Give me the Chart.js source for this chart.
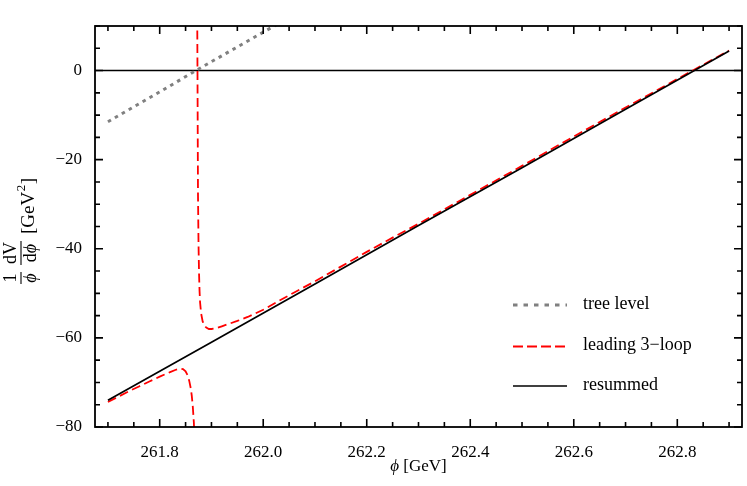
<!DOCTYPE html>
<html>
<head>
<meta charset="utf-8">
<script src="https://cdn.jsdelivr.net/npm/chart.js@4"></script>
<style>
  html, body { margin: 0; padding: 0; background: #fff; }
  #wrap { width: 747px; height: 486px; }
</style>
</head>
<body>
<div id="wrap"><canvas id="c" width="747" height="486"></canvas></div>
<script>
// ---- data ----
const treeX = [261.70, 261.80, 261.87, 261.95, 262.05];
const treeY = [-11.5, -4.8, 0.0, 5.3, 11.9];

// leading 3-loop: left branch, gap (pole), right branch
const loopLeftX = [261.70, 261.72, 261.74, 261.76, 261.78, 261.80, 261.81, 261.82, 261.83, 261.835, 261.84, 261.845, 261.85, 261.854, 261.857, 261.86, 261.862, 261.864, 261.866, 261.867];
const loopLeftY = [-74.4, -73.2, -72.0, -70.9, -69.8, -68.7, -68.2, -67.7, -67.2, -67.0, -66.9, -67.0, -67.5, -68.4, -69.6, -71.3, -73.0, -75.5, -79.0, -82.0];
const loopRightX = [261.8725, 261.873, 261.8735, 261.874, 261.875, 261.876, 261.877, 261.878, 261.880, 261.883, 261.886, 261.890, 261.895, 261.900, 261.905, 261.910, 261.920, 261.930, 261.950, 261.970, 262.000, 262.030, 262.060, 262.100, 262.150, 262.200, 262.250, 262.300, 262.400, 262.500, 262.600, 262.700, 262.800, 262.900];
const loopRightY = [12.0, 0.0, -15.0, -28.0, -39.0, -45.5, -49.5, -52.0, -54.5, -56.3, -57.2, -57.7, -58.0, -58.0, -57.9, -57.8, -57.4, -57.0, -56.2, -55.3, -53.7, -51.7, -49.8, -47.3, -44.0, -40.7, -37.5, -34.4, -27.9, -21.4, -14.8, -8.3, -1.9, 4.5];

const resumX = [261.70, 261.90, 262.10, 262.30, 262.50, 262.70, 262.90];
const resumY = [-74.0, -61.0, -47.9, -34.8, -21.8, -8.7, 4.4];

// axis ticks
const xMajorTicks = [261.8, 262.0, 262.2, 262.4, 262.6, 262.8];
const xMinorTicks = [261.70, 261.75, 261.85, 261.90, 261.95, 262.05, 262.10, 262.15, 262.25, 262.30, 262.35, 262.45, 262.50, 262.55, 262.65, 262.70, 262.75, 262.85, 262.90];
const yMajorTicks = [-80, -60, -40, -20, 0];
const yMinorTicks = [-75, -70, -65, -55, -50, -45, -35, -30, -25, -15, -10, -5, 5, 10];

const legendLabels = ['tree level', 'leading 3\u2212loop', 'resummed'];

// ---- build chart data ----
const pts = (xs, ys) => xs.map((x, i) => ({ x: x, y: ys[i] }));
const loopData = pts(loopLeftX, loopLeftY)
  .concat([{ x: (loopLeftX[loopLeftX.length - 1] + loopRightX[0]) / 2, y: null }])
  .concat(pts(loopRightX, loopRightY));

const SERIF = '"Liberation Serif", "DejaVu Serif", serif';

const styles = [
  { color: '#808080', width: 3, dash: [3.5, 4.5], legendDash: [4.5, 6] },
  { color: '#ff0000', width: 1.8, dash: [9, 4.5], legendDash: [10, 4] },
  { color: '#000000', width: 1.7, dash: [], legendDash: [] }
];

const framePlugin = {
  id: 'frame',
  beforeDatasetsDraw(chart) {
    const { ctx, chartArea: a, scales: { y } } = chart;
    const y0 = y.getPixelForValue(0);
    ctx.save();
    ctx.strokeStyle = '#000';
    ctx.lineWidth = 1.4;
    ctx.beginPath();
    ctx.moveTo(a.left, y0);
    ctx.lineTo(a.right, y0);
    ctx.stroke();
    ctx.restore();
  },
  afterDatasetsDraw(chart) {
    const { ctx, chartArea: a, scales: { x, y } } = chart;
    ctx.save();
    ctx.strokeStyle = '#000';
    ctx.lineWidth = 1.8;
    ctx.strokeRect(a.left, a.top, a.right - a.left, a.bottom - a.top);
    const tick = (vals, len, isX) => {
      ctx.beginPath();
      vals.forEach(v => {
        if (isX) {
          const px = x.getPixelForValue(v);
          ctx.moveTo(px, a.bottom); ctx.lineTo(px, a.bottom - len);
          ctx.moveTo(px, a.top); ctx.lineTo(px, a.top + len);
        } else {
          const py = y.getPixelForValue(v);
          ctx.moveTo(a.left, py); ctx.lineTo(a.left + len, py);
          ctx.moveTo(a.right, py); ctx.lineTo(a.right - len, py);
        }
      });
      ctx.stroke();
    };
    ctx.lineWidth = 1.6;
    tick(xMajorTicks, 8, true);
    tick(xMinorTicks, 5, true);
    tick(yMajorTicks, 8, false);
    tick(yMinorTicks, 5, false);
    ctx.restore();
  },
  afterDraw(chart) {
    const { ctx, chartArea: a } = chart;
    ctx.save();
    ctx.fillStyle = '#000';
    // legend
    const rows = [305, 346.5, 386];
    rows.forEach((ry, i) => {
      const ds = chart.data.datasets[i];
      ctx.strokeStyle = ds.borderColor;
      ctx.lineWidth = ds.borderWidth;
      ctx.setLineDash(styles[i].legendDash);
      ctx.beginPath();
      ctx.moveTo(513, ry);
      ctx.lineTo(567, ry);
      ctx.stroke();
      ctx.setLineDash([]);
      ctx.font = '18px ' + SERIF;
      ctx.textBaseline = 'middle';
      ctx.textAlign = 'left';
      ctx.fillText(legendLabels[i], 583, ry - 1);
    });

    // x title: phi [GeV], centred on the frame
    ctx.textBaseline = 'alphabetic';
    ctx.textAlign = 'left';
    ctx.font = 'italic 17px ' + SERIF;
    const phiW = ctx.measureText('\u03d5').width;
    ctx.font = '17px ' + SERIF;
    const restW = ctx.measureText(' [GeV]').width;
    const cxT = (a.left + a.right) / 2;
    let sx = cxT - (phiW + restW) / 2;
    ctx.font = 'italic 17px ' + SERIF;
    ctx.fillText('\u03d5', sx, 471);
    ctx.font = '17px ' + SERIF;
    ctx.fillText(' [GeV]', sx + phiW, 471);

    // y title: (1/phi)(dV/dphi) [GeV^2], rotated
    ctx.translate(21, 286);
    ctx.rotate(-Math.PI / 2);
    const FS = 18;
    const drawMixed = (parts, cx, by) => {
      let total = 0;
      parts.forEach(p => { ctx.font = (p[1] ? 'italic ' : '') + FS + 'px ' + SERIF; total += ctx.measureText(p[0]).width; });
      let px = cx - total / 2;
      ctx.textAlign = 'left';
      parts.forEach(p => {
        ctx.font = (p[1] ? 'italic ' : '') + FS + 'px ' + SERIF;
        ctx.fillText(p[0], px, by);
        px += ctx.measureText(p[0]).width;
      });
    };
    const frac = (num, den, cx, w) => {
      drawMixed(num, cx, -5);
      drawMixed(den, cx, 15);
      ctx.lineWidth = 1.1;
      ctx.strokeStyle = '#000';
      ctx.beginPath();
      ctx.moveTo(cx - w / 2, 0);
      ctx.lineTo(cx + w / 2, 0);
      ctx.stroke();
    };
    frac([['1', false]], [['\u03d5', true]], 8, 12);
    frac([['dV', false]], [['d', false], ['\u03d5', true]], 33, 24);
    ctx.font = '19px ' + SERIF;
    ctx.textAlign = 'left';
    ctx.textBaseline = 'alphabetic';
    let gx = 52;
    ctx.fillText('[GeV', gx, 13);
    gx += ctx.measureText('[GeV').width;
    ctx.font = '13px ' + SERIF;
    ctx.fillText('2', gx + 0.5, 4);
    gx += ctx.measureText('2').width + 1;
    ctx.font = '19px ' + SERIF;
    ctx.fillText(']', gx, 13);
    ctx.restore();
  }
};

const chart = new Chart(document.getElementById('c'), {
  type: 'line',
  data: {
    datasets: [
      { label: legendLabels[0], data: pts(treeX, treeY), borderColor: styles[0].color, borderWidth: styles[0].width, borderDash: styles[0].dash, borderCapStyle: 'butt', pointRadius: 0, fill: false, tension: 0, order: 3 },
      { label: legendLabels[1], data: loopData, borderColor: styles[1].color, borderWidth: styles[1].width, borderDash: styles[1].dash, pointRadius: 0, fill: false, tension: 0, spanGaps: false, order: 2 },
      { label: legendLabels[2], data: pts(resumX, resumY), borderColor: styles[2].color, borderWidth: styles[2].width, pointRadius: 0, fill: false, tension: 0, order: 1 }
    ]
  },
  options: {
    responsive: false,
    devicePixelRatio: 1,
    animation: false,
    events: [],
    layout: { padding: { top: 26, right: 5, left: 0, bottom: 0 } },
    plugins: { legend: { display: false }, tooltip: { enabled: false } },
    scales: {
      x: {
        type: 'linear', min: 261.675, max: 262.925,
        afterBuildTicks: s => { s.ticks = xMajorTicks.map(v => ({ value: v })); },
        afterFit: s => { s.height = 59; },
        grid: { display: false }, border: { display: false },
        ticks: { font: { family: SERIF, size: 17 }, color: '#000', padding: 7, maxRotation: 0, autoSkip: false, callback: v => Number(v).toFixed(1) }
      },
      y: {
        type: 'linear', min: -80, max: 10,
        afterBuildTicks: s => { s.ticks = yMajorTicks.map(v => ({ value: v })); },
        afterFit: s => { s.width = 95; },
        grid: { display: false }, border: { display: false },
        ticks: { font: { family: SERIF, size: 17 }, color: '#000', padding: 5, autoSkip: false, callback: v => (v < 0 ? '\u2212' : '') + Math.abs(v) }
      }
    }
  },
  plugins: [framePlugin]
});
</script>
</body>
</html>
